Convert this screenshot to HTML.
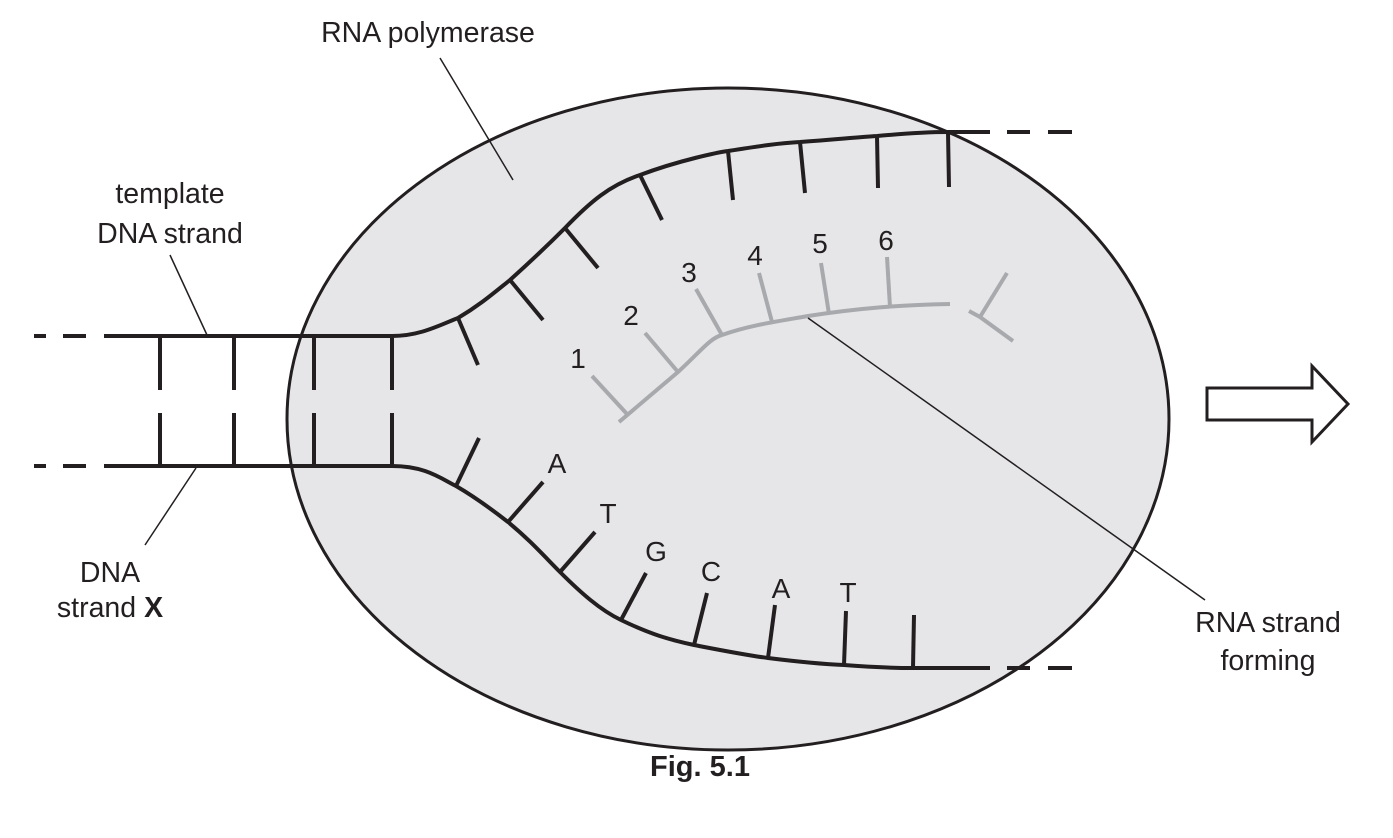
<!DOCTYPE html>
<html><head><style>html,body{margin:0;padding:0;background:#fff}svg{display:block}</style></head>
<body>
<svg width="1393" height="838" viewBox="0 0 1393 838" xmlns="http://www.w3.org/2000/svg" font-family="Liberation Sans, Arial, sans-serif">
<ellipse cx="728" cy="419" rx="441" ry="331" fill="#e6e6e8" stroke="#231f20" stroke-width="3"/>
<g stroke="#231f20" stroke-width="4" fill="none">
<line x1="34" y1="336" x2="46" y2="336"/><line x1="63" y1="336" x2="86" y2="336"/>
<line x1="34" y1="466" x2="46" y2="466"/><line x1="63" y1="466" x2="86" y2="466"/>
<line x1="1007" y1="132" x2="1030" y2="132"/><line x1="1048" y1="132" x2="1072" y2="132"/>
<line x1="1007" y1="668" x2="1030" y2="668"/><line x1="1048" y1="668" x2="1072" y2="668"/>
<path d="M104 336 L392 336 C420 336 440 325 458 318 C480 305 495 292 510 280 C530 262 548 245 565 228 C590 202 610 185 640 175 C680 160 720 152 728 151 C760 146 780 143 800 142 C840 139 860 137 877 136 C910 133 930 132 948 132 L990 132"/>
<path d="M104 466 L392 466 C425 466 440 478 456 486 C475 497 490 508 508 522 C530 540 545 557 560 572 C580 592 600 610 621 620 C650 634 670 640 694 645 C720 650 745 655 768 658 C800 662 820 664 844 665 C870 667 895 668 913 668 L990 668"/>
<line x1="160" y1="336" x2="160" y2="390"/><line x1="160" y1="413" x2="160" y2="466"/>
<line x1="234" y1="336" x2="234" y2="390"/><line x1="234" y1="413" x2="234" y2="466"/>
<line x1="314" y1="336" x2="314" y2="390"/><line x1="314" y1="413" x2="314" y2="466"/>
<line x1="392" y1="336" x2="392" y2="390"/><line x1="392" y1="413" x2="392" y2="466"/>
<line x1="458" y1="318" x2="478" y2="365"/>
<line x1="510" y1="280" x2="543" y2="320"/>
<line x1="565" y1="228" x2="598" y2="268"/>
<line x1="640" y1="175" x2="662" y2="220"/>
<line x1="728" y1="151" x2="733" y2="200"/>
<line x1="800" y1="142" x2="805" y2="193"/>
<line x1="877" y1="136" x2="878" y2="188"/>
<line x1="948" y1="132" x2="949" y2="187"/>
<line x1="456" y1="486" x2="479" y2="438"/>
<line x1="508" y1="522" x2="543" y2="482"/>
<line x1="560" y1="572" x2="595" y2="532"/>
<line x1="621" y1="620" x2="646" y2="573"/>
<line x1="694" y1="645" x2="707" y2="593"/>
<line x1="768" y1="658" x2="775" y2="605"/>
<line x1="844" y1="665" x2="846" y2="611"/>
<line x1="913" y1="668" x2="914" y2="615"/>
</g>
<g stroke="#a7a9ac" stroke-width="4" fill="none">
<path d="M619 422 L678 372 C700 352 710 338 722 335 C750 325 780 321 808 316 C860 308 900 305 950 304"/>
<line x1="592" y1="376" x2="627" y2="414"/>
<line x1="645" y1="333" x2="678" y2="372"/>
<line x1="696" y1="289" x2="722" y2="335"/>
<line x1="759" y1="273" x2="772" y2="322"/>
<line x1="821" y1="263" x2="829" y2="314"/>
<line x1="887" y1="257" x2="890" y2="307"/>
<line x1="1007" y1="273" x2="980" y2="317"/>
<line x1="969" y1="311" x2="980" y2="317"/>
<line x1="980" y1="317" x2="1013" y2="341"/>
</g>
<g stroke="#231f20" stroke-width="1.5">
<line x1="440" y1="58" x2="513" y2="180"/>
<line x1="170" y1="255" x2="207" y2="335"/>
<line x1="145" y1="545" x2="196" y2="468"/>
<line x1="808" y1="318" x2="1205" y2="600"/>
</g>
<path d="M1207 388 L1312 388 L1312 366 L1348 404 L1312 442 L1312 420 L1207 420 Z" fill="#fff" stroke="#231f20" stroke-width="3"/>
<g font-size="28.5" fill="#231f20" text-anchor="middle">
<text x="428" y="42">RNA polymerase</text>
<text x="170" y="203">template</text>
<text x="170" y="243">DNA strand</text>
<text x="110" y="582">DNA</text>
<text x="110" y="617">strand <tspan font-weight="bold">X</tspan></text>
<text x="1268" y="632">RNA strand</text>
<text x="1268" y="670">forming</text>
</g>
<g font-size="28" fill="#231f20" text-anchor="middle">
<text x="578" y="368">1</text><text x="631" y="325">2</text><text x="689" y="282">3</text>
<text x="755" y="265">4</text><text x="820" y="253">5</text><text x="886" y="250">6</text>
<text x="557" y="473">A</text><text x="608" y="523">T</text><text x="656" y="561">G</text>
<text x="711" y="581">C</text><text x="781" y="598">A</text><text x="848" y="602">T</text>
<text x="700" y="776" font-size="29" font-weight="bold">Fig. 5.1</text>
</g>
</svg>
</body></html>
